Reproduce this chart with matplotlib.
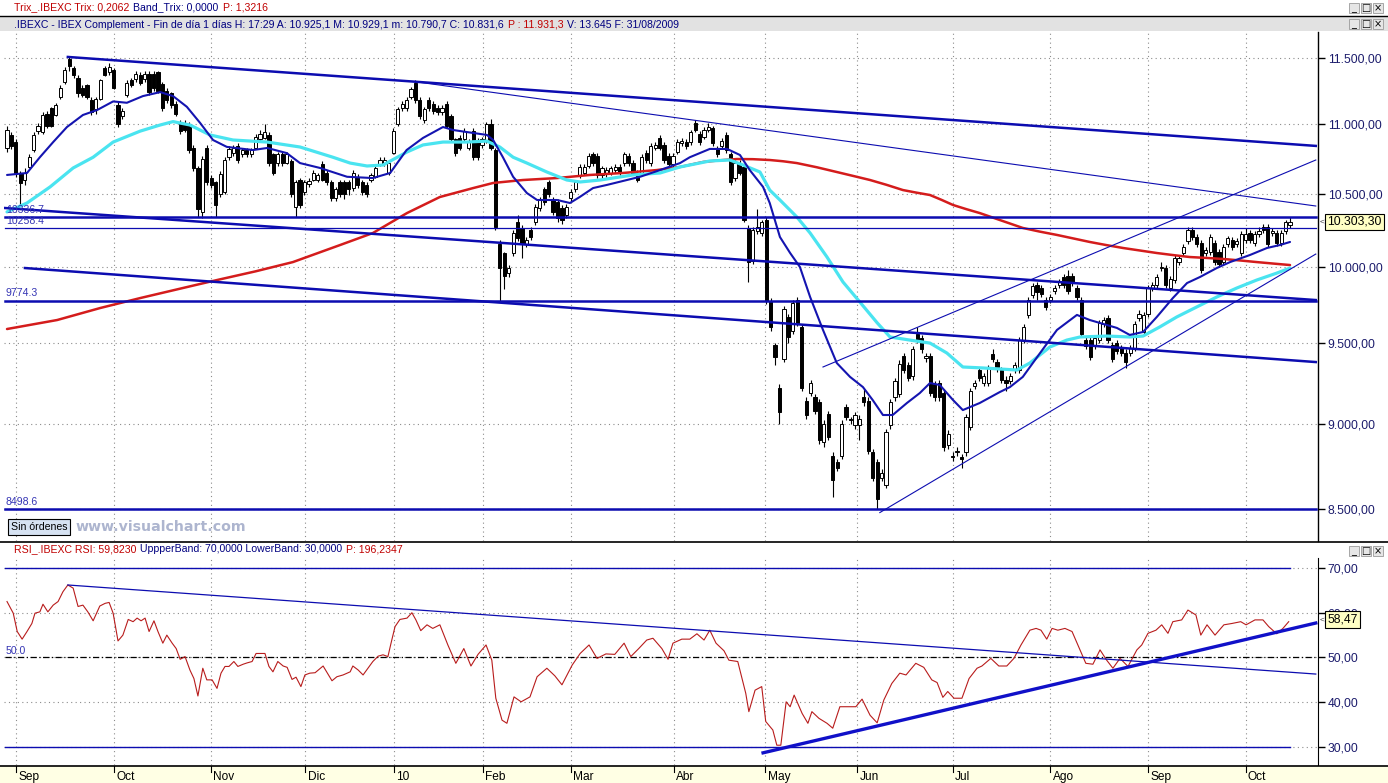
import numpy as np
import matplotlib
matplotlib.use('Agg')
import matplotlib.pyplot as plt
from matplotlib import transforms
from matplotlib.patches import Rectangle
from matplotlib.lines import Line2D
from matplotlib.ticker import NullLocator, FixedLocator

plt.rcParams['font.family'] = ['Liberation Sans', 'DejaVu Sans']

# ---------------- DATA ----------------
opens = [
10830,10920,10870,10650,10595,10690,10810,10950,10940,11080,
11120,11070,11200,11320,11490,11420,11350,11270,11290,11180,
11110,11190,11420,11390,11410,11140,11060,11220,11330,11340,
11370,11340,11380,11380,11390,11300,11250,11230,11150,11010,
11010,11000,10830,10680,10370,10830,10610,10580,10500,10510,
10760,10790,10840,10780,10810,10780,10830,10890,10900,10920,
10780,10720,10780,10720,10730,10410,10600,10510,10570,10600,
10600,10710,10650,10580,10470,10580,10580,10580,10540,10620,
10580,10560,10600,10620,10710,10720,10650,10790,11000,11120,
11120,11200,11310,11180,11030,11180,11150,11120,11090,11150,
11060,10890,10900,10890,10830,10950,10880,10850,10880,11000,
10810,10150,10090,9960,10090,10300,10260,10150,10250,10300,
10400,10530,10580,10460,10440,10400,10350,10470,10530,10630,
10650,10700,10780,10770,10630,10640,10650,10670,10690,10720,
10770,10720,10650,10650,10790,10720,10830,10900,10850,10770,
10710,10800,10860,10870,10870,11010,10930,10910,10960,10970,
10820,10840,10920,10780,10610,10720,10690,10260,10040,10240,
10230,10320,9770,9490,9220,9400,9670,9580,9780,9600,
9140,9190,9160,9130,8890,9060,8810,8770,8810,9100,
9030,8990,8990,9160,9140,8830,8770,8680,8640,8990,
9160,9180,9420,9360,9290,9560,9530,9405,9420,9240,
9250,9190,8870,8810,8830,8800,8830,8980,9230,9330,
9250,9250,9430,9380,9330,9270,9260,9330,9330,9520,
9680,9810,9880,9860,9780,9780,9840,9880,9930,9940,
9940,9860,9780,9520,9520,9480,9520,9620,9660,9490,
9500,9470,9440,9440,9470,9660,9570,9690,9860,9880,
9990,9990,9860,9910,10030,10090,10170,10250,10200,10160,
10090,10100,10160,10100,10030,10150,10180,10150,10090,10180,
10230,10160,10220,10270,10270,10230,10230,10160,10240,10280]

closes = [
10960,10840,10650,10575,10650,10760,10920,10990,11070,10990,
10990,11140,11270,11410,11440,11370,11230,11220,11200,11090,
11190,11330,11370,11430,11270,11000,11100,11310,11290,11380,
11310,11380,11240,11270,11250,11120,11180,11140,11080,10950,
10960,10810,10680,10390,10750,10580,10560,10420,10640,10740,
10820,10830,10740,10810,10780,10810,10910,10930,10940,10720,
10650,10780,10720,10780,10500,10580,10420,10580,10590,10650,
10630,10600,10580,10470,10530,10500,10500,10530,10650,10560,
10510,10500,10630,10680,10740,10740,10720,10950,11110,11150,
11180,11260,11180,11060,11110,11120,11100,11090,11120,10990,
10890,10790,10830,10950,10870,10760,10760,10890,11000,10830,
10270,9990,9940,9990,10230,10190,10150,10180,10200,10410,
10460,10440,10500,10370,10330,10320,10410,10510,10580,10690,
10690,10770,10720,10630,10680,10670,10680,10690,10650,10780,
10720,10650,10600,10760,10740,10840,10850,10830,10740,10710,
10770,10870,10880,10840,10940,10960,10870,10960,10980,10860,
10780,10880,10810,10580,10720,10650,10320,10030,10250,10270,
10300,9770,9600,9410,9070,9720,9540,9760,9630,9220,
9050,9250,9080,8900,9000,8920,8670,8740,9000,9040,
9020,9050,9030,9130,8840,8680,8560,8710,8950,9130,
9260,9370,9330,9280,9460,9520,9460,9415,9190,9160,
9160,8860,8940,8800,8840,8790,9040,9200,9250,9280,
9290,9340,9400,9350,9270,9250,9290,9360,9520,9600,
9780,9870,9830,9820,9730,9800,9860,9900,9880,9840,
9890,9800,9560,9480,9410,9530,9630,9650,9520,9400,
9450,9440,9380,9470,9620,9690,9680,9860,9880,9930,
10000,9880,9920,10060,10060,10130,10250,10200,10150,9980,
10110,10200,10030,10020,10130,10190,10130,10170,10220,10220,
10180,10220,10240,10250,10150,10240,10160,10230,10300,10303]

highs = [
10990,10940,10890,10660,10680,10780,10940,11010,11090,11100,
11130,11160,11290,11430,11510,11440,11370,11290,11300,11200,
11200,11340,11440,11460,11420,11170,11120,11330,11350,11400,
11390,11400,11400,11400,11400,11320,11270,11240,11170,11030,
11030,11020,10850,10700,10770,10850,10630,10590,10660,10760,
10840,10850,10860,10830,10830,10830,10930,10960,11000,10940,
10790,10800,10800,10800,10750,10600,10610,10600,10610,10670,
10650,10730,10670,10600,10550,10600,10600,10600,10670,10640,
10600,10580,10650,10700,10760,10760,10740,10970,11130,11170,
11200,11280,11330,11200,11130,11200,11170,11140,11140,11170,
11080,10900,10920,10970,10890,10970,10900,10910,11020,11040,
10830,10180,10100,10010,10250,10350,10280,10200,10270,10430,
10480,10550,10600,10480,10460,10420,10430,10530,10600,10710,
10710,10790,10800,10790,10700,10690,10700,10710,10710,10800,
10790,10740,10670,10780,10810,10860,10870,10920,10870,10790,
10790,10890,10900,10890,10960,11030,10950,10980,11010,10990,
10840,10900,10940,10800,10740,10740,10710,10280,10270,10390,
10320,10340,9790,9500,9240,9740,9690,9780,9800,9620,
9160,9270,9180,9150,9020,9080,8830,8790,9020,9120,
9040,9070,9050,9210,9160,8850,8790,8730,8970,9150,
9280,9390,9440,9380,9480,9600,9550,9440,9440,9260,
9270,9210,8960,8830,8860,8820,9060,9220,9270,9350,
9310,9360,9460,9400,9350,9290,9310,9380,9540,9620,
9800,9890,9900,9880,9800,9820,9880,9920,9950,9980,
9960,9880,9800,9540,9540,9550,9650,9670,9680,9510,
9520,9490,9460,9490,9640,9710,9700,9880,9900,9950,
10030,10010,9940,10080,10080,10150,10270,10270,10220,10180,
10130,10220,10180,10120,10150,10210,10200,10190,10240,10260,
10250,10240,10270,10290,10290,10260,10250,10250,10320,10340]

lows = [
10800,10820,10620,10420,10560,10680,10800,10930,10930,10970,
10980,11060,11190,11300,11400,11350,11200,11200,11190,11070,
11080,11180,11360,11370,11260,10980,11040,11200,11280,11320,
11290,11320,11220,11250,11230,11100,11160,11120,11060,10930,
10940,10790,10660,10340,10330,10560,10540,10340,10480,10500,
10740,10770,10720,10760,10760,10760,10820,10880,10890,10700,
10630,10700,10700,10710,10480,10340,10400,10490,10550,10590,
10580,10590,10560,10450,10450,10480,10460,10490,10520,10540,
10490,10480,10580,10610,10700,10700,10630,10780,10990,11100,
11100,11190,11160,11040,11010,11100,11080,11070,11070,10970,
10870,10770,10810,10870,10810,10740,10740,10830,10860,10810,
10250,9775,9850,9930,10070,10170,10060,10130,10180,10280,
10380,10420,10480,10350,10300,10290,10330,10450,10510,10610,
10630,10680,10700,10610,10610,10620,10630,10650,10630,10700,
10700,10630,10580,10630,10720,10700,10810,10810,10720,10690,
10690,10780,10840,10820,10850,10940,10850,10890,10940,10840,
10760,10820,10790,10560,10590,10630,10300,9900,10020,10220,
10210,9750,9580,9360,9000,9380,9500,9560,9610,9200,
9030,9170,9060,8880,8860,8900,8570,8720,8790,9020,
9000,8970,8900,9110,8820,8660,8500,8660,8620,8970,
9140,9160,9310,9260,9270,9500,9440,9380,9170,9140,
9140,8840,8850,8780,8810,8740,8810,8960,9210,9260,
9230,9230,9380,9320,9250,9200,9240,9310,9310,9500,
9660,9790,9780,9800,9710,9760,9820,9860,9860,9820,
9870,9780,9540,9460,9390,9460,9500,9600,9500,9380,
9430,9420,9340,9420,9450,9640,9550,9670,9840,9860,
9970,9860,9840,9890,10010,10070,10150,10180,10130,9960,
10070,10080,10010,10000,10010,10130,10110,10130,10070,10160,
10160,10140,10200,10230,10130,10210,10140,10140,10220,10260]

# short moving average (blue)
blue_idx = [0,4.5,7.4,10.4,13.5,17.1,20.3,23.9,27,30.6,34.5,37.4,40.5,43.5,46.4,49.5,55.4,58.6,63,66,
            70.5,76.6,82.4,86.3,90,93.7,98.2,100.5,103.6,108.1,109.5,111.7,114,117.1,119.4,123.9,126.8,129,132,135.1,
            142.6,147.1,151.6,153.8,158.3,162.2,165.1,167.3,170.3,171.8,174.1,176.4,178.6,180.9,183.8,186.9,189.9,192.8,195,197.3,
            199.5,202.7,205.6,207.9,210.1,213.1,215.3,219.1,223.6,225.9,228.8,232.7,236.5,241,243.9,250,252.9,255.9,259,262.6,
            265.8,268.7,272.5,275.5,280,283.8,286.7,289]
blue_val = [10633,10647,10760,10870,10980,11069,11106,11170,11160,11210,11240,11210,11130,11010,10885,10835,10812,10827,10790,10718,
            10683,10620,10611,10647,10812,10900,10980,10958,10943,10922,10885,10760,10620,10505,10456,10456,10435,10477,10540,10562,
            10620,10668,10718,10760,10820,10820,10776,10668,10548,10435,10200,10091,9997,9798,9584,9374,9287,9224,9144,9053,
            9053,9126,9187,9249,9237,9144,9083,9126,9193,9224,9287,9437,9584,9681,9648,9597,9552,9571,9668,9791,
            9890,9930,9990,10030,10078,10125,10145,10166]

# medium moving average (cyan)
cyan_idx = [0,4.5,9.7,14.9,19.4,23.9,30,34.5,37.4,41.2,45.7,50.9,58.6,66,73.4,77.3,81.1,84.7,90.1,93.7,
            98.2,103.6,108.1,111,114,117.1,121.6,126.1,129.1,133.6,141,147.1,151.6,153.8,158.3,162.8,165.8,169.6,171.8,174.1,
            177.9,180.9,184.7,188.3,192.1,196,198.9,203.4,207.9,211.7,215.3,219.8,227.5,230.4,234.9,238.7,241.7,247.7,252.9,255.9,
            259.7,263.5,268,272.5,277,281.5,286,289]
cyan_val = [10373,10435,10548,10683,10760,10870,10950,10995,11020,10995,10922,10885,10870,10834,10760,10718,10697,10704,10798,10849,
            10870,10870,10877,10834,10760,10718,10654,10597,10583,10597,10633,10647,10690,10704,10733,10740,10704,10654,10526,10456,
            10338,10227,10064,9897,9765,9630,9539,9519,9500,9437,9349,9343,9330,9374,9475,9519,9539,9545,9539,9545,
            9604,9668,9733,9798,9857,9910,9956,9990]

# long moving average (red)
red_idx = [0,11.3,21,30,43.5,47.3,56,64.4,75,82.4,90.1,97.5,105,109.5,116.2,123.9,131.3,138.7,146.4,151.6,156.8,
           160.6,164.4,168,171.8,174.8,177.9,182.4,186.9,190.6,194.4,198.1,201.8,204.8,207.9,210.5,213.1,216.1,219.1,223.6,
           228.8,232.6,236.5,240.2,243.9,247.6,251.4,255.2,259,262.7,266.4,270.1,273.9,277.7,281.5,285.2,289]
red_val = [9590,9648,9726,9791,9884,9910,9968,10030,10145,10227,10365,10477,10540,10576,10597,10611,10633,10647,10668,10690,10726,
           10738,10747,10746,10740,10731,10718,10688,10654,10626,10597,10563,10526,10508,10491,10457,10421,10392,10365,10317,
           10262,10237,10214,10190,10166,10145,10125,10108,10091,10077,10064,10058,10051,10041,10030,10020,10010]

# RSI
rsi_idx = [0,1.4,2.3,3.4,4.5,5.6,6.3,7.4,8.1,9.2,10.4,11.5,12.6,13.7,14.9,16,17.1,18.2,19.4,20.3,
           20.9,22.1,23,23.9,25,26.1,27.3,28.4,29.3,30.2,31.1,32,33.1,34,35.1,36,37.2,38.1,39,40.1,
           41.2,42.1,43,44.1,45,46.2,47.3,48.2,49.1,50,51.1,52,53.2,54.1,55.2,56.1,57,58.1,59,59.9,
           61,62.2,63.1,64.2,65.1,66.2,67.1,68.2,69.4,71.2,73.2,74.3,75.7,77.3,77.9,79.1,80.2,81.3,82.4,83.6,
           84.7,85.8,86.5,87.4,88.5,90.1,91.2,92.1,93.2,94.6,95.9,
           97.5,99.3,101.1,102.9,104.5,106.1,107.9,109.2,110.1,111.5,112.6,114.2,115.8,117.8,119.4,121.6,123.4,125,127.3,129.1,
           131.1,132.9,134.9,136.9,139,140.5,142.3,144.1,145.5,147.5,148.9,150,152,153.8,155.4,157,158.3,159.7,161.5,162.6,
           164.6,166.4,167.1,168.5,170,170.9,172.5,173.4,174.3,175.5,176.4,177.3,179.1,180.4,181.3,182.9,184.7,186,187.6,189.2,
           191.2,192.6,194.4,196,197.5,199.3,201.1,202.5,204.7,206.5,208.3,209.5,210.8,211.9,213.3,215.1,216.7,218.5,219.6,221.6,
           223.4,225.2,226.8,228.4,230.4,231.8,232.9,234.2,235.4,236.7,238.3,239.9,241.2,243,244.6,246.2,247.7,249.1,250.7,252.5,
           254.5,255.6,257,258.8,260.1,261.5,262.6,264.6,266,267.8,268.9,270.3,272.1,274.1,275.9,277.9,279.1,281.1,282.9,284.2,
           286,287.4,288.7]
rsi_val = [62.5,59.9,55.8,54.1,55.8,57.6,59.9,60.2,61.9,60.2,61.7,62.5,64.7,66.2,65.5,61.4,61.7,60.2,58.2,60.2,
           61.5,62.1,62.3,59.9,53.7,55.0,58.5,58.0,58.8,58.2,58.8,55.8,58.2,55.8,53.2,55.0,53.2,52.0,49.6,50.2,
           47.2,45.3,41.4,47.6,45.0,45.0,43.1,46.5,48.0,48.0,49.1,48.0,48.5,48.8,49.1,50.9,50.9,50.9,48.0,46.8,
           49.1,48.1,47.8,45.1,45.6,43.5,46.1,46.5,46.6,48.1,44.8,45.7,46.1,46.8,48.1,47.2,46.1,47.6,49.1,50.3,
           50.6,50.2,53.2,56.9,58.5,58.8,60.0,58.4,56.0,57.3,56.5,
           57.3,52.8,48.7,52.0,48.1,50.7,52.8,49.4,40.9,36.0,35.3,41.2,40.1,41.2,45.7,47.6,45.9,43.9,48.3,50.9,
           52.8,49.8,50.8,50.7,53.2,50.2,52.0,53.9,54.3,52.0,49.6,53.2,54.1,54.1,55.3,53.9,56.1,53.2,51.5,49.4,
           49.1,42.0,37.9,42.7,43.5,35.7,33.8,30.4,30.4,40.1,39.0,41.6,37.5,35.3,37.9,36.4,35.3,34.2,39.0,39.0,
           39.0,40.7,37.1,35.4,40.5,44.2,46.5,46.1,48.7,47.8,45.0,44.4,41.1,42.4,40.9,40.9,45.3,47.6,48.1,49.8,
           48.1,48.1,49.8,52.8,56.1,56.5,56.1,54.1,56.5,56.1,56.5,55.8,52.8,48.7,48.5,51.7,49.4,47.6,49.8,48.0,
           51.7,52.8,55.4,56.1,57.3,55.4,58.0,58.4,60.6,59.5,55.0,57.3,55.0,57.3,57.6,58.0,57.3,58.4,58.4,56.9,
           55.3,56.5,58.0]

# month ticks (candle index) and labels
month_pos = [2, 24.2, 45.9, 67.2, 87.2, 107.2, 127, 150.2, 170.8, 191.5, 213, 235, 257, 279]
month_lbl = ["Sep", "Oct", "Nov", "Dic", "10", "Feb", "Mar", "Abr", "May", "Jun", "Jul", "Ago", "Sep", "Oct"]

price_ticks = [8500, 9000, 9500, 10000, 10500, 11000, 11500]
price_tick_lbl = ["8.500,00", "9.000,00", "9.500,00", "10.000,00", "10.500,00", "11.000,00", "11.500,00"]
rsi_ticks = [30, 40, 50, 60, 70]
rsi_tick_lbl = ["30,00", "40,00", "50,00", "60,00", "70,00"]

# horizontal levels (price panel)
level_vals = [10336.7, 10258.4, 9774.3, 8498.6]
level_lbls = ["10336.7", "10258.4", "9774.3", "8498.6"]
level_thick = [True, False, True, True]

# sloped trend lines (price panel): start idx, start val, end idx, end val
trend_x0 = [13.7, 92.3, -0.45, 4.05, 183.8, 196.6]
trend_y0 = [11508, 11317, 10400, 9990, 9349, 8480]
trend_x1 = [294.8, 294.8, 294.8, 294.8, 294.8, 294.8]
trend_y1 = [10842, 10414, 9778, 9380, 10740, 10084]
trend_thick = [True, False, True, True, False, False]

# RSI trend lines
rsi_tr_x0 = [13.7, 170.3]
rsi_tr_y0 = [66.2, 28.7]
rsi_tr_x1 = [294.8, 294.8]
rsi_tr_y1 = [46.3, 57.7]
rsi_tr_thick = [False, True]

last_price_lbl = "10.303,30"
last_price = 10303.3
last_rsi_lbl = "58,47"
last_rsi = 58.47

# ---------------- FIGURE ----------------
W, H = 1388, 783
fig = plt.figure(figsize=(W / 100, H / 100), dpi=100)
fig.patch.set_facecolor('white')


def rect(x0, y0, x1, y1):
    return [x0 / W, 1 - y1 / H, (x1 - x0) / W, (y1 - y0) / H]


def fx(x):
    return x / W


def fy(y):
    return 1 - y / H


NAVY = '#000080'
RED = '#c00000'
LBLUE = '#1c1c6c'
DBLUE = '#0c0cb0'
GRID = '#8c8c8c'

XMIN, XMAX = -0.68, 295.3
PXU = (XMAX - XMIN) / (1318 - 4)   # index units per pixel

# background bars
fig.patches.append(Rectangle((0, fy(31)), 1, 14 / H, transform=fig.transFigure,
                             facecolor='#e2e2e2', edgecolor='none', zorder=0))
fig.add_artist(Line2D([0, 1], [fy(16), fy(16)], color='black', lw=1.0))
fig.add_artist(Line2D([0, 1], [fy(542), fy(542)], color='black', lw=1.2))

# ---------------- PRICE PANEL ----------------
ax = fig.add_axes(rect(4, 32, 1318, 541))
ax.set_yscale('log')
n = min(len(opens), len(closes), len(highs), len(lows))
o = np.array(opens[:n], float)
c = np.array(closes[:n], float)
hi = np.array(highs[:n], float)
lo = np.array(lows[:n], float)
idx = np.arange(n)
up = c >= o
ax.vlines(idx, lo, hi, color='black', lw=0.8, zorder=3)
bb = np.minimum(o, c)
bh = np.maximum(np.abs(c - o), 7)
ax.bar(idx[up], bh[up], bottom=bb[up], width=0.72, color='white', edgecolor='black', lw=0.7, zorder=4)
ax.bar(idx[~up], bh[~up], bottom=bb[~up], width=0.72, color='black', edgecolor='black', lw=0.7, zorder=4)

ax.plot(red_idx, red_val, color='#d41c1c', lw=1.8, zorder=5, solid_capstyle='round', solid_joinstyle='round')
ax.plot(cyan_idx, cyan_val, color='#4ae4f0', lw=2.3, zorder=5, solid_capstyle='round', solid_joinstyle='round')
ax.plot(blue_idx, blue_val, color='#1414b0', lw=1.5, zorder=6, solid_capstyle='round', solid_joinstyle='round')

for x0, y0, x1, y1, th in zip(trend_x0, trend_y0, trend_x1, trend_y1, trend_thick):
    ax.plot([x0, x1], [y0, y1], color=DBLUE, lw=1.8 if th else 0.8, zorder=7)

ytr = transforms.blended_transform_factory(ax.transAxes, ax.transData)
for v, lb, th in zip(level_vals, level_lbls, level_thick):
    ax.plot([-0.45, 294.8], [v, v], color=DBLUE, lw=1.8 if th else 0.9, zorder=7)
    ax.text(0.0015, v * 1.0015, lb, transform=ytr, ha='left', va='bottom',
            fontsize=7.6, color='#3434b4', zorder=8)

ax.set_xlim(XMIN, XMAX)
ax.set_ylim(8320, 11702)
ax.xaxis.set_major_locator(FixedLocator(month_pos))
ax.yaxis.set_major_locator(FixedLocator(price_ticks))
ax.yaxis.set_minor_locator(NullLocator())
ax.set_yticklabels(price_tick_lbl)
ax.yaxis.tick_right()
ax.tick_params(axis='x', length=0, labelbottom=False)
ax.tick_params(axis='y', direction='out', length=5, width=1, pad=2, labelsize=8.7,
               labelcolor=LBLUE, color='black')
ax.grid(True, color=GRID, linestyle=(0, (1, 3)), lw=0.8, zorder=0)
for s in ['top', 'left', 'bottom']:
    ax.spines[s].set_visible(False)
ax.spines['right'].set_color('black')
ax.spines['right'].set_linewidth(1.0)

# price tag
ftr = transforms.blended_transform_factory(fig.transFigure, ax.transData)
ax.text(fx(1327), last_price, last_price_lbl, transform=ftr, ha='left', va='center',
        fontsize=8.7, color='black', clip_on=False, zorder=10,
        bbox=dict(boxstyle='square,pad=0.18', facecolor='#ffffc4', edgecolor='black', lw=0.8))
ax.text(fx(1320), last_price, '<', transform=ftr, ha='left', va='center',
        fontsize=6, color='#404040', clip_on=False)

# Sin órdenes / watermark
fig.text(fx(11), fy(527), 'Sin órdenes', ha='left', va='center', fontsize=7.6, color='black',
         bbox=dict(boxstyle='square,pad=0.25', facecolor='#d6e2f2', edgecolor='black', lw=0.8))
fig.text(fx(75), fy(527), 'www.visualchart.com', ha='left', va='center', fontsize=10.2,
         fontweight='bold', color='#adb5cf', family=['DejaVu Sans'])

# ---------------- RSI PANEL ----------------
ax2 = fig.add_axes(rect(4, 558, 1318, 765))
ax2.plot(rsi_idx, rsi_val, color='#b81c1c', lw=0.8, zorder=5)
for v in [70, 30]:
    ax2.plot([-0.45, 289], [v, v], color=DBLUE, lw=1.0, zorder=4)
ax2.plot([-0.45, 294.8], [50, 50], color='black', lw=0.9, linestyle=(0, (5, 2, 1, 2)), zorder=4)
for x0, y0, x1, y1, th in zip(rsi_tr_x0, rsi_tr_y0, rsi_tr_x1, rsi_tr_y1, rsi_tr_thick):
    ax2.plot([x0, x1], [y0, y1], color='#1010c8' if th else DBLUE, lw=2.4 if th else 0.9, zorder=6)
ax2.text(0.0015, 50.4, '50.0', transform=transforms.blended_transform_factory(ax2.transAxes, ax2.transData),
         ha='left', va='bottom', fontsize=7.6, color='#3434b4')
ax2.set_xlim(XMIN, XMAX)
ax2.set_ylim(25.98, 72.23)
ax2.xaxis.set_major_locator(FixedLocator(month_pos))
ax2.yaxis.set_major_locator(FixedLocator(rsi_ticks))
ax2.set_yticklabels(rsi_tick_lbl)
ax2.yaxis.tick_right()
ax2.tick_params(axis='x', length=0, labelbottom=False)
ax2.tick_params(axis='y', direction='out', length=5, width=1, pad=2, labelsize=8.7,
                labelcolor=LBLUE, color='black')
ax2.grid(True, color=GRID, linestyle=(0, (1, 3)), lw=0.8, zorder=0)
for s in ['top', 'left', 'bottom']:
    ax2.spines[s].set_visible(False)
ax2.spines['right'].set_color('black')
ftr2 = transforms.blended_transform_factory(fig.transFigure, ax2.transData)
ax2.text(fx(1327), last_rsi, last_rsi_lbl, transform=ftr2, ha='left', va='center',
         fontsize=8.7, color='black', clip_on=False, zorder=10,
         bbox=dict(boxstyle='square,pad=0.18', facecolor='#ffffc4', edgecolor='black', lw=0.8))
ax2.text(fx(1320), last_rsi, '<', transform=ftr2, ha='left', va='center',
         fontsize=6, color='#404040', clip_on=False)

# ---------------- DATE BAND ----------------
ax3 = fig.add_axes(rect(0, 766, 1388, 783))
ax3.set_facecolor('#ffffe4')
ax3.set_xlim(XMIN - 4 * PXU, XMIN + 1384 * PXU)
ax3.set_ylim(0, 1)
ax3.set_xticks([])
ax3.set_yticks([])
for s in ax3.spines.values():
    s.set_visible(False)
for p, lb in zip(month_pos, month_lbl):
    ax3.plot([p, p], [1.0, 0.62], color='black', lw=0.8)
    ax3.text(p + 0.5, 0.38, lb, ha='left', va='center', fontsize=8.6, color='black')
fig.add_artist(Line2D([0, 1], [fy(765.5), fy(765.5)], color='black', lw=1.2))

# ---------------- HEADERS ----------------
renderer = fig.canvas.get_renderer()


def pieces(x_px, y_px, parts, size=7.6):
    x = x_px
    for s, col in parts:
        t = fig.text(fx(x), fy(y_px), s, color=col, fontsize=size, ha='left', va='center')
        w = t.get_window_extent(renderer=renderer).width
        x += w + 4


pieces(14, 7, [("Trix_.IBEXC Trix: 0,2062", RED), ("Band_Trix: 0,0000", NAVY), ("P: 1,3216", RED)])
pieces(14, 24.5, [(".IBEXC - IBEX Complement - Fin de día 1 días H: 17:29 A: 10.925,1 M: 10.929,1 "
                   "m: 10.790,7 C: 10.831,6", NAVY), ("P : 11.931,3", RED), ("V: 13.645 F: 31/08/2009", NAVY)])
pieces(14, 549.5, [("RSI_.IBEXC RSI: 59,8230", RED), ("UppperBand: 70,0000 LowerBand: 30,0000", NAVY),
                   ("P: 196,2347", RED)])


def win_buttons(y_top):
    for i, g in enumerate(['_', '□', '×']):
        x0 = 1349 + i * 12
        fig.patches.append(Rectangle((fx(x0), fy(y_top + 10)), 10 / W, 10 / H, transform=fig.transFigure,
                                     facecolor='#e6e6e6', edgecolor='#9a9a9a', lw=0.6, zorder=1))
        fig.text(fx(x0 + 5), fy(y_top + 5), g, ha='center', va='center', fontsize=7,
                 color='black', family=['DejaVu Sans'])


win_buttons(3)
win_buttons(19)
win_buttons(546)

fig.savefig('out.png', dpi=100, facecolor='white')
